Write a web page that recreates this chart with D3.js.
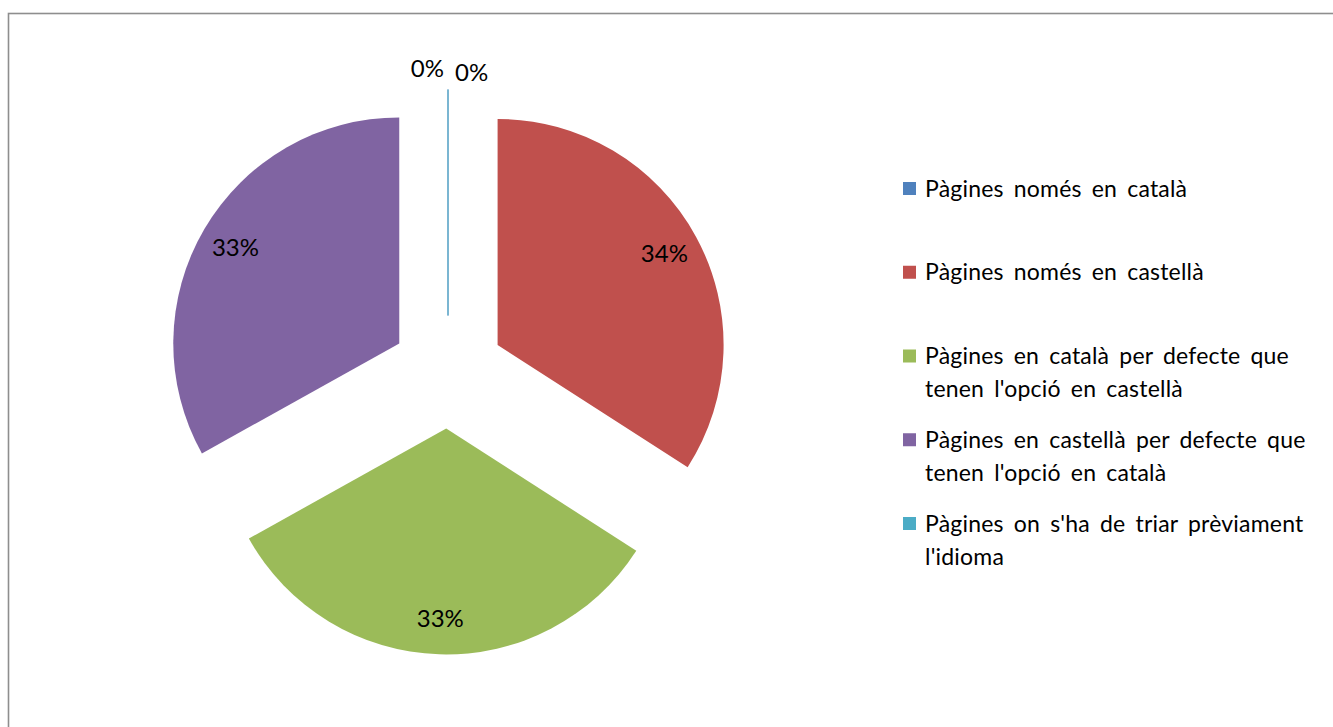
<!DOCTYPE html>
<html>
<head>
<meta charset="utf-8">
<script src="https://cdn.jsdelivr.net/npm/d3@7"></script>
<style>
  html, body { margin: 0; padding: 0; background: #fff; }
  svg text { font-family: Lato, "Open Sans", sans-serif; fill: #000; }
</style>
</head>
<body>
<div id="chart"></div>
<script>
// data (percent of pages)
const categories = [
  "Pàgines només en català",
  "Pàgines només en castellà",
  "Pàgines en català per defecte que tenen l'opció en castellà",
  "Pàgines en castellà per defecte que tenen l'opció en català",
  "Pàgines on s'ha de triar prèviament l'idioma"
];
const values = [0, 34.1, 32.8, 33.1, 0];
const legendLines = [
  ["Pàgines només en català"],
  ["Pàgines només en castellà"],
  ["Pàgines en català per defecte que", "tenen l'opció en castellà"],
  ["Pàgines en castellà per defecte que", "tenen l'opció en català"],
  ["Pàgines on s'ha de triar prèviament", "l'idioma"]
];
const colors = ["#4F81BD", "#C0504D", "#9BBB59", "#8064A2", "#4BACC6"];

const width = 1333, height = 727;
const cx = 448, cy = 372;
const radius = 226;
const explode = 56.5;
const fontSize = 23;

const svg = d3.select("#chart").append("svg")
  .attr("width", width)
  .attr("height", height);

// chart frame
svg.append("rect")
  .attr("x", 8.5).attr("y", 13.5)
  .attr("width", 1340).attr("height", 730)
  .attr("fill", "none")
  .attr("stroke", "#8e8e8e")
  .attr("stroke-width", 1.6);

const pie = d3.pie().sort(null).value(d => d)(values);
const arc = d3.arc().innerRadius(0).outerRadius(radius);
const pct = d3.format(".0%");
const total = d3.sum(values);

// offset of each exploded slice along its bisector
function shift(d) {
  const a = (d.startAngle + d.endAngle) / 2;
  return [explode * Math.sin(a), -explode * Math.cos(a)];
}

const g = svg.append("g").attr("transform", `translate(${cx},${cy})`);

g.selectAll("path.slice")
  .data(pie)
  .enter().append("path")
  .attr("class", "slice")
  .attr("transform", d => `translate(${shift(d)})`)
  .attr("d", arc)
  .attr("fill", (d, i) => colors[i])
  .attr("stroke", (d, i) => colors[i])
  .attr("stroke-opacity", (d, i) => values[i] === 0 ? 0.55 : 0)
  .attr("stroke-width", 1);

// data labels
const labelArc = d3.arc().innerRadius(190).outerRadius(190);
g.selectAll("text.lbl")
  .data(pie)
  .enter().append("text")
  .attr("class", "lbl")
  .attr("font-size", 24)
  .each(function(d, i) {
    const [sx, sy] = shift(d);
    const t = d3.select(this).text(pct(values[i] / total));
    if (values[i] > 0) {
      const [lx, ly] = labelArc.centroid(d);
      t.attr("x", sx + lx).attr("y", sy + ly)
        .attr("text-anchor", "middle")
        .attr("dy", "0.35em");
    } else {
      const first = i < values.length / 2;
      const a = d.startAngle;
      const tipX = sx + (radius + 13) * Math.sin(a);
      const tipY = sy - (radius + 13) * Math.cos(a);
      t.attr("x", tipX + (first ? -4 : 7))
        .attr("y", tipY + (first ? 0 : 4))
        .attr("text-anchor", first ? "end" : "start");
    }
  });

// legend
const legendY = d3.scaleLinear().domain([0, 4]).range([196.5, 531.5]);
const lineH = 33.3;
const legend = svg.append("g").attr("class", "legend");
const item = legend.selectAll("g.item")
  .data(categories)
  .enter().append("g")
  .attr("class", "item")
  .attr("transform", (d, i) => `translate(903,${legendY(i)})`);

item.append("rect")
  .attr("x", 0).attr("y", -14.5)
  .attr("width", 13).attr("height", 13)
  .attr("fill", (d, i) => colors[i]);

item.append("text")
  .attr("font-size", fontSize)
  .attr("word-spacing", 4)
  .attr("letter-spacing", 0.2)
  .selectAll("tspan")
  .data((d, i) => legendLines[i])
  .enter().append("tspan")
  .attr("x", 22)
  .attr("y", (d, j) => j * lineH)
  .text(d => d);
</script>
</body>
</html>
